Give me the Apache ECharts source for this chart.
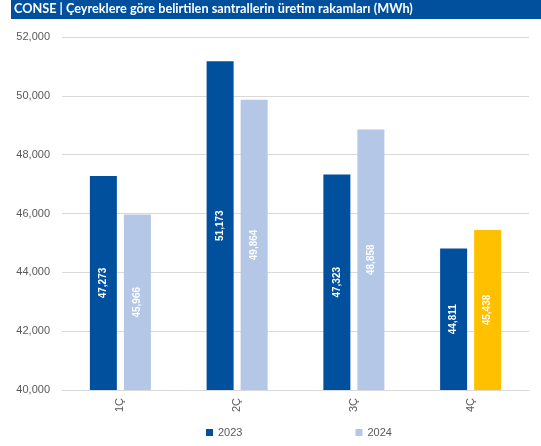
<!DOCTYPE html>
<html>
<head>
<meta charset="utf-8">
<script src="https://cdn.jsdelivr.net/npm/echarts@6/dist/echarts.min.js"></script>
<style>html,body{margin:0;padding:0;background:#fff}#c{width:541px;height:446px}</style>
</head>
<body>
<div id="c"></div>
<script>
var titleText = 'CONSE | Çeyreklere göre belirtilen santrallerin üretim rakamları (MWh)';
var categories = ['1Ç', '2Ç', '3Ç', '4Ç'];
var values2023 = [47273, 51173, 47323, 44811];
var values2024 = [45966, 49864, 48858, 45438];
var seriesNames = ['2023', '2024'];

var C23 = '#00509E', C24 = '#B4C7E7', CHL = '#FFC000';
var fmt = function (v) { return v.toLocaleString('en-US'); };

var chart = echarts.init(document.getElementById('c'));
var lbl = {
  show: true, position: 'inside', rotate: 90, color: '#fff',
  fontFamily: 'Liberation Sans', fontWeight: 'bold', fontSize: 10,
  formatter: function (p) { return fmt(p.value); }
};
chart.setOption({
  animation: false,
  graphic: [
    { type: 'rect', shape: { x: 11, y: 0, width: 530, height: 19 }, style: { fill: C23 } },
    { type: 'text', left: 14, top: 2, style: { text: titleText, fill: '#fff', font: 'bold 12.7px Lato' } }
  ],
  grid: { left: 62, right: 12, top: 37, bottom: 56 },
  legend: {
    data: seriesNames, left: 201, top: 422, itemWidth: 7, itemHeight: 7, itemGap: 113,
    icon: 'rect', textStyle: { color: '#595959', fontSize: 11, fontFamily: 'Liberation Sans' }
  },
  xAxis: {
    type: 'category', data: categories,
    axisLine: { lineStyle: { color: '#D9D9D9' } }, axisTick: { show: false },
    axisLabel: { rotate: 90, color: '#595959', fontSize: 11, margin: 8, fontFamily: 'Liberation Sans' }
  },
  yAxis: {
    type: 'value', min: 40000, max: 52000, interval: 2000,
    axisLine: { show: false }, axisTick: { show: false },
    splitLine: { lineStyle: { color: '#D9D9D9' } },
    axisLabel: { color: '#595959', fontSize: 11, margin: 12, fontFamily: 'Liberation Sans', formatter: fmt }
  },
  series: [
    { name: seriesNames[0], type: 'bar', data: values2023, barWidth: 27, barGap: '26%',
      itemStyle: { color: C23 }, label: lbl },
    { name: seriesNames[1], type: 'bar', barWidth: 27,
      data: values2024.map(function (v, i) { return i === values2024.length - 1 ? { value: v, itemStyle: { color: CHL } } : v; }),
      itemStyle: { color: C24 }, label: lbl }
  ]
});
</script>
</body>
</html>
